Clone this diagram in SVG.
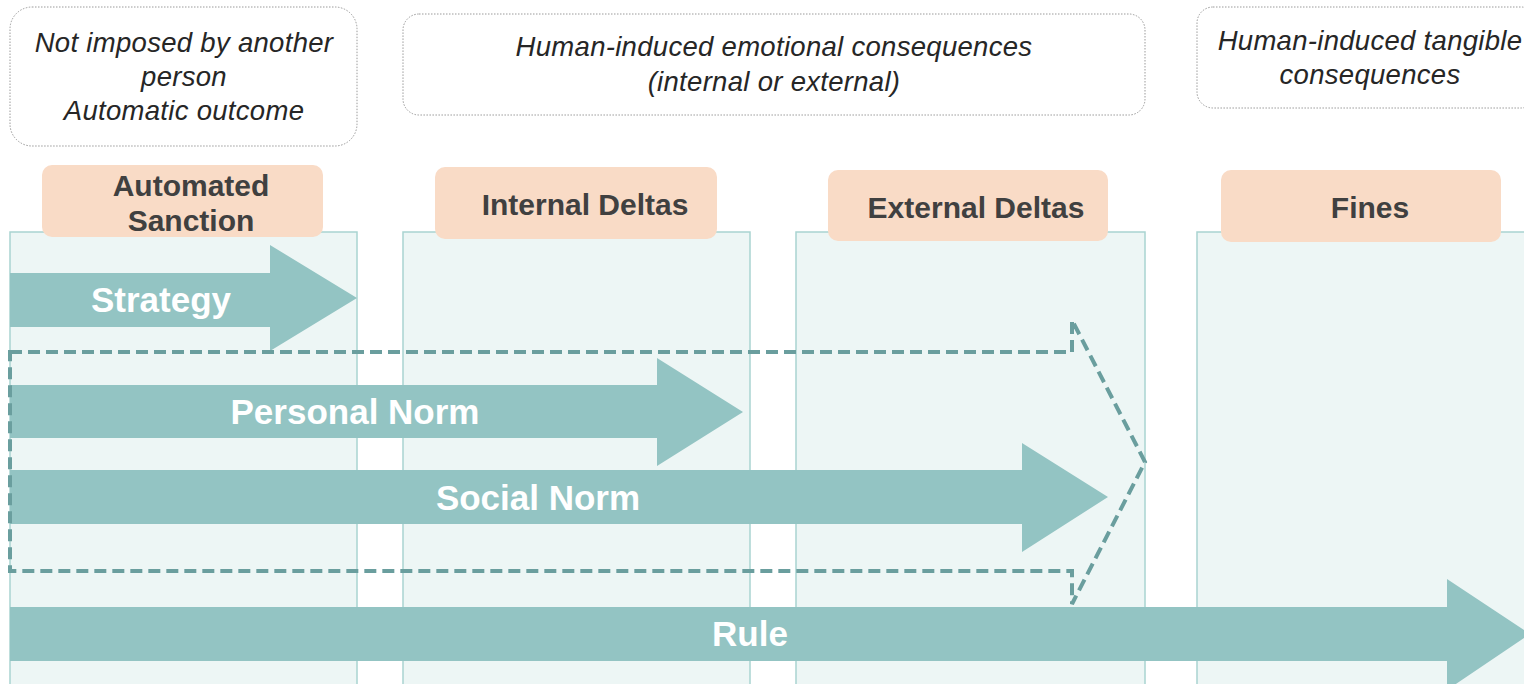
<svg xmlns="http://www.w3.org/2000/svg" width="1524" height="684" viewBox="0 0 1524 684">
<style>
.col{fill:#EDF6F5;stroke:#A9D4D1;stroke-width:1.5}
.note{fill:#FFFFFF;stroke:#9A9A9A;stroke-width:1;stroke-dasharray:1.5 1.5}
.ntxt{font-family:"Liberation Sans",Arial,sans-serif;font-style:italic;font-size:27.5px;letter-spacing:0.3px;fill:#262626;text-anchor:middle}
.lab{fill:#F9DBC6}
.ltxt{font-family:"Liberation Sans",Arial,sans-serif;font-weight:bold;font-size:30px;fill:#404040;text-anchor:middle}
.arr{fill:#93C4C3}
.atxt{font-family:"Liberation Sans",Arial,sans-serif;font-weight:bold;font-size:35px;fill:#FFFFFF;text-anchor:middle}
.dash{fill:none;stroke:#6A9E9E;stroke-width:4;stroke-dasharray:12 6}
</style>
<rect width="1524" height="684" fill="#FFFFFF"/>
<g id="columns">
<rect class="col" x="10" y="232" width="347" height="460"/>
<rect class="col" x="403" y="232" width="347" height="460"/>
<rect class="col" x="796" y="232" width="349" height="460"/>
<rect class="col" x="1197" y="232" width="340" height="460"/>
</g>
<g id="note1">
<rect class="note" x="10" y="7" width="347" height="139" rx="22"/>
<text class="ntxt" x="184" y="52">Not imposed by another</text>
<text class="ntxt" x="184" y="86">person</text>
<text class="ntxt" x="184" y="120">Automatic outcome</text>
</g>
<g id="note2">
<rect class="note" x="403" y="14" width="742" height="101" rx="16"/>
<text class="ntxt" x="774" y="56">Human-induced emotional consequences</text>
<text class="ntxt" x="774" y="91">(internal or external)</text>
</g>
<g id="note3">
<rect class="note" x="1197" y="7" width="340" height="101" rx="16"/>
<text class="ntxt" x="1370" y="50">Human-induced tangible</text>
<text class="ntxt" x="1370" y="84">consequences</text>
</g>
<g id="label-automated">
<rect class="lab" x="42" y="165" width="281" height="72" rx="10"/>
<text class="ltxt" x="191" y="196">Automated</text>
<text class="ltxt" x="191" y="231">Sanction</text>
</g>
<g id="label-internal">
<rect class="lab" x="435" y="167" width="282" height="72" rx="10"/>
<text class="ltxt" x="585" y="215">Internal Deltas</text>
</g>
<g id="label-external">
<rect class="lab" x="828" y="170" width="280" height="71" rx="10"/>
<text class="ltxt" x="976" y="218">External Deltas</text>
</g>
<g id="label-fines">
<rect class="lab" x="1221" y="170" width="280" height="72" rx="10"/>
<text class="ltxt" x="1370" y="218">Fines</text>
</g>
<g id="arrow-strategy">
<polygon class="arr" points="10,273 270,273 270,245 357,298 270,351 270,327 10,327"/>
<text class="atxt" x="161" y="312">Strategy</text>
</g>
<g id="arrow-personal">
<polygon class="arr" points="10,385 657,385 657,358 743,412 657,466 657,438 10,438"/>
<text class="atxt" x="355" y="424">Personal Norm</text>
</g>
<g id="arrow-social">
<polygon class="arr" points="10,470 1022,470 1022,443 1108,497 1022,552 1022,524 10,524"/>
<text class="atxt" x="538" y="510">Social Norm</text>
</g>
<g id="arrow-rule">
<polygon class="arr" points="10,607 1447,607 1447,579 1530,634 1447,690 1447,661 10,661"/>
<text class="atxt" x="750" y="646">Rule</text>
</g>
<g id="connectors">
<path class="dash" d="M10,352 L1072,352 L1072,320 L1145,462 L1072,604 L1072,571 L10,571 Z"/>
</g>
</svg>
